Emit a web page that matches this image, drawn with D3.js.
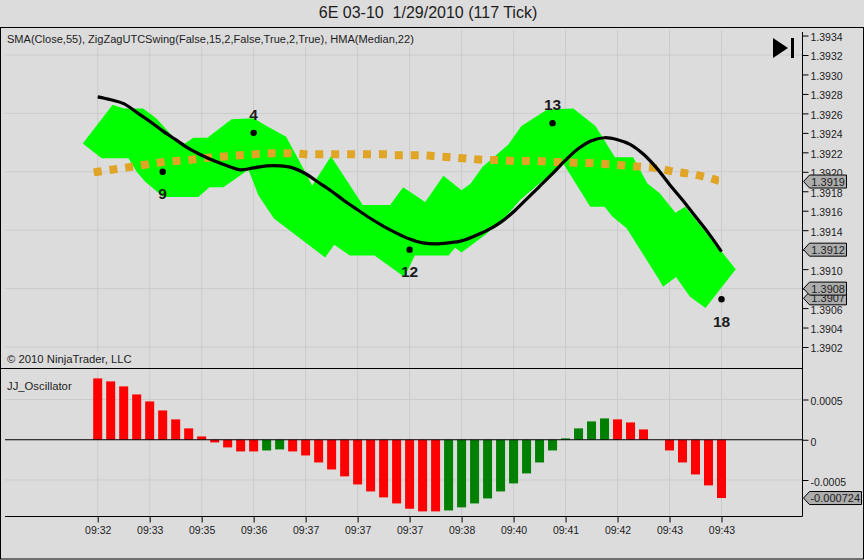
<!DOCTYPE html>
<html>
<head>
<meta charset="utf-8">
<script src="https://cdn.jsdelivr.net/npm/d3@7"></script>
<style>
  body { margin: 0; background: #dcdcdc; }
  svg { display: block; font-family: "Liberation Sans", Arial, sans-serif; }
  text { fill: #1c1c1c; white-space: pre; }
</style>
</head>
<body>
<div id="chart"></div>
<script>
// Data
const timeLabels = ["09:32", "09:33", "09:35", "09:36", "09:37", "09:37", "09:37", "09:38", "09:40", "09:41", "09:42", "09:43", "09:43"];
const priceTicks = [1.3934, 1.3932, 1.3930, 1.3928, 1.3926, 1.3924, 1.3922, 1.3920, 1.3918, 1.3916, 1.3914, 1.3912, 1.3910, 1.3908, 1.3906, 1.3904, 1.3902];
const priceGrid = [1.3932, 1.3926, 1.3920, 1.3914, 1.3908, 1.3902];
const priceFlags = [1.3919, 1.3912, 1.3907, 1.3908];
const oscTicks = [0.0005, 0, -0.0005];

const hma = [1.39277, 1.39274, 1.39270, 1.39261, 1.39252, 1.39242, 1.39233, 1.39224, 1.39217, 1.39211,
  1.39206, 1.39202, 1.39204, 1.39206, 1.39206, 1.39204, 1.39198, 1.39189, 1.39180, 1.39170,
  1.39161, 1.39152, 1.39144, 1.39137, 1.39131, 1.39127, 1.39126, 1.39127, 1.39129, 1.39134,
  1.39140, 1.39148, 1.39159, 1.39172, 1.39185, 1.39198, 1.39212, 1.39224, 1.39232, 1.39235,
  1.39233, 1.39228, 1.39218, 1.39204, 1.39187, 1.39171, 1.39154, 1.39137, 1.39118];

const sma = [1.39200, 1.39202, 1.39204, 1.39206, 1.39208, 1.39210, 1.39211, 1.39212, 1.39214, 1.39215,
  1.39216, 1.39217, 1.39218, 1.39219, 1.39219, 1.39219, 1.39218, 1.39218, 1.39218, 1.39218,
  1.39218, 1.39218, 1.39218, 1.39217, 1.39217, 1.39217, 1.39216, 1.39215, 1.39214, 1.39213,
  1.39212, 1.39212, 1.39211, 1.39211, 1.39211, 1.39210, 1.39210, 1.39209, 1.39209, 1.39208,
  1.39207, 1.39206, 1.39205, 1.39204, 1.39201, 1.39199, 1.39197, 1.39194, 1.39190];

// Green band outline, upper and lower edge
const bandTopBar = [-1.15, 1.15, 2, 3.5, 4.5, 5.8, 6.6, 7.36, 8.44, 10.3, 12, 13, 14.5, 15.6, 16.5, 17.95, 20.4, 22.5, 23.5, 25.2, 26.6, 28, 28.7, 29.6, 31.6, 32.6, 34.6, 36.6, 38.3, 39.8, 41.2, 42.3, 43.25, 44.46, 45.2, 48, 49.1];
const bandTopPrice = [1.39229, 1.39269, 1.39265, 1.39265, 1.39255, 1.39236, 1.39228, 1.39235, 1.39235, 1.39254, 1.39255, 1.39247, 1.39236, 1.39209, 1.39186, 1.39216, 1.39166, 1.39166, 1.39184, 1.39169, 1.39196, 1.39181, 1.39188, 1.39205, 1.39228, 1.39247, 1.39264, 1.39265, 1.39247, 1.39215, 1.39215, 1.39188, 1.39178, 1.39158, 1.39164, 1.39118, 1.39100];
const bandLowBar = [0.3, 2.36, 3, 3.64, 5.05, 7.74, 8.6, 9.67, 11.6, 12.36, 13.56, 17.5, 18.2, 19.4, 21.3, 23.6, 24.4, 27, 27.5, 28, 30, 31.6, 32.5, 34.6, 35.8, 37.9, 39, 39.6, 40.7, 43.2, 43.5, 44.5, 45.56, 46.77];
const bandLowPrice = [1.39214, 1.39214, 1.39200, 1.39190, 1.39174, 1.39174, 1.39184, 1.39184, 1.39202, 1.39176, 1.39152, 1.39112, 1.39125, 1.39114, 1.39114, 1.39092, 1.39114, 1.39114, 1.39122, 1.39117, 1.39137, 1.39157, 1.39171, 1.39195, 1.39209, 1.39164, 1.39164, 1.39154, 1.39142, 1.39089, 1.39082, 1.39092, 1.39072, 1.39060];

// Swing points
const swingBar = [5, 12, 24, 35, 48];
const swingPrice = [1.3920, 1.3924, 1.3912, 1.3925, 1.39069];
const swingLabel = ["9", "4", "12", "13", "18"];
const swingAbove = [false, true, false, true, false];

const oscillator = [0.000762, 0.000725, 0.000663, 0.000563, 0.000476, 0.000364, 0.000253, 0.000141, 0.000041, -0.000033,
  -0.000095, -0.000145, -0.000145, -0.000133, -0.00012, -0.000145, -0.000195, -0.000282, -0.000369, -0.000455,
  -0.000555, -0.000642, -0.000716, -0.000791, -0.000857, -0.00089, -0.00089, -0.000878, -0.00084, -0.000791,
  -0.000729, -0.000642, -0.000542, -0.000418, -0.000282, -0.000133, 0.000017, 0.000141, 0.000228, 0.000265,
  0.000253, 0.000215, 0.000128, 0, -0.000133, -0.000282, -0.000431, -0.000567, -0.000724];
const greenBars = [13, 14, 27, 28, 29, 30, 31, 32, 33, 34, 35, 36, 37, 38, 39];

const width = 864, height = 560;
const bg = "#dcdcdc", gridColor = "#cbcbcb";
const right = 802.5;

const x = d3.scaleLinear().domain([0, 48]).range([97.7, 721.5]);
const y = d3.scaleLinear().domain([1.3932, 1.3902]).range([55, 347]);
const yOsc = d3.scaleLinear().domain([0.0005, -0.0005]).range([399.5, 480]);

const svg = d3.select("#chart").append("svg")
  .attr("width", width)
  .attr("height", height);

svg.append("rect").attr("width", width).attr("height", height).attr("fill", bg);

// Title
svg.append("text")
  .attr("x", 428).attr("y", 18)
  .attr("text-anchor", "middle")
  .style("font-size", "16px")
  .text("6E 03-10  1/29/2010 (117 Tick)");

// Grid
const grid = svg.append("g").attr("stroke", gridColor).attr("stroke-width", 1);
grid.selectAll(".v").data(d3.range(0, 49, 4)).join("line")
  .attr("x1", d => x(d)).attr("x2", d => x(d))
  .attr("y1", 30).attr("y2", 516);
grid.selectAll(".h").data(priceGrid).join("line")
  .attr("x1", 5).attr("x2", right)
  .attr("y1", d => y(d)).attr("y2", d => y(d));
grid.selectAll(".o").data([0.0005, -0.0005]).join("line")
  .attr("x1", 5).attr("x2", right)
  .attr("y1", d => yOsc(d)).attr("y2", d => yOsc(d));

// Legend boxes hide the vertical grid behind the text
svg.append("rect").attr("x", 5).attr("y", 30).attr("width", 411).attr("height", 17).attr("fill", bg);
svg.append("rect").attr("x", 5).attr("y", 352).attr("width", 128).attr("height", 15).attr("fill", bg);

const smallText = (t, px, py, size) => svg.append("text").attr("x", px).attr("y", py).style("font-size", size + "px").text(t);
smallText("SMA(Close,55), ZigZagUTCSwing(False,15,2,False,True,2,True), HMA(Median,22)", 7, 43, 11.05);
smallText("© 2010 NinjaTrader, LLC", 7, 363, 11.3);
smallText("JJ_Oscillator", 7, 390, 11.3);

// Green band
const bandPoints = bandTopBar.map((b, i) => [b, bandTopPrice[i]])
  .concat(bandLowBar.map((b, i) => [b, bandLowPrice[i]]).reverse());
svg.append("path")
  .attr("d", d3.line().x(d => x(d[0])).y(d => y(d[1]))(bandPoints) + "Z")
  .attr("fill", "#00ff00");

// SMA and HMA
const priceLine = d3.line().x((d, i) => x(i)).y(d => y(d));
svg.append("clipPath").attr("id", "smaClip")
  .append("rect").attr("x", 0).attr("y", 0).attr("width", x(47.8)).attr("height", height);
svg.append("path")
  .attr("d", priceLine(sma))
  .attr("clip-path", "url(#smaClip)")
  .attr("fill", "none")
  .attr("stroke", "#e0a526")
  .attr("stroke-width", 8)
  .attr("stroke-linecap", "square")
  .attr("stroke-dasharray", "0.01 15.9");
svg.append("path")
  .attr("d", priceLine.curve(d3.curveCatmullRom)(hma))
  .attr("fill", "none")
  .attr("stroke", "#000")
  .attr("stroke-width", 3.2);

// Swing dots with labels
svg.selectAll(".swing").data(swingBar).join("circle")
  .attr("cx", d => x(d))
  .attr("cy", (d, i) => y(swingPrice[i]))
  .attr("r", 3.2)
  .attr("fill", "#000");
svg.selectAll(".swinglabel").data(swingBar).join("text")
  .attr("x", d => x(d))
  .attr("y", (d, i) => y(swingPrice[i]) + (swingAbove[i] ? -13 : 27.5))
  .attr("text-anchor", "middle")
  .style("font-weight", "bold")
  .style("font-size", "15.5px")
  .text((d, i) => swingLabel[i]);

// Oscillator bars
svg.selectAll(".bar").data(oscillator).join("rect")
  .attr("x", (d, i) => x(i) - 4.5)
  .attr("width", 9)
  .attr("y", d => Math.min(yOsc(d), yOsc(0)))
  .attr("height", d => Math.abs(yOsc(d) - yOsc(0)))
  .attr("fill", (d, i) => greenBars.includes(i) ? "#008000" : "#ff0000");

// Frame
const frame = svg.append("g").attr("stroke", "#000").attr("stroke-width", 1).attr("fill", "none");
frame.append("rect").attr("x", 0.5).attr("y", 27.5).attr("width", 863).attr("height", 531.5);
frame.append("line").attr("x1", 0).attr("x2", right).attr("y1", 368.5).attr("y2", 368.5);
frame.append("line").attr("x1", 5).attr("x2", right).attr("y1", yOsc(0)).attr("y2", yOsc(0));
frame.append("line").attr("x1", 5).attr("x2", right).attr("y1", 516.5).attr("y2", 516.5);
frame.append("line").attr("x1", right).attr("x2", right).attr("y1", 32).attr("y2", 516.5);

// Axes
function styleAxis(g) {
  g.select(".domain").remove();
  g.selectAll("line").attr("stroke", "#000");
  g.selectAll("text").style("font-size", "10.5px").style("font-family", "'Liberation Sans', Arial, sans-serif");
}
svg.append("g")
  .attr("transform", `translate(${right},0)`)
  .call(d3.axisRight(y).tickValues(priceTicks).tickSize(6).tickPadding(2).tickFormat(d3.format(".4f")))
  .call(styleAxis)
  .selectAll("text").attr("dy", "0.47em");
svg.append("g")
  .attr("transform", `translate(${right},0)`)
  .call(d3.axisRight(yOsc).tickValues(oscTicks).tickSize(6).tickPadding(2).tickFormat(d => d === 0 ? "0" : d3.format(".4f")(d).replace("−", "-")))
  .call(styleAxis)
  .selectAll("text").attr("dy", "0.5em");
svg.append("g")
  .attr("transform", "translate(0,516.5)")
  .call(d3.axisBottom(x).tickValues(d3.range(0, 49, 4)).tickSize(6).tickPadding(4).tickFormat(d => timeLabels[d / 4]))
  .call(styleAxis);

// Price flags on the axes
function flag(value, py, w) {
  const g = svg.append("g").attr("transform", `translate(${right + 1},${py})`);
  g.append("path")
    .attr("d", `M0,0L6,-6.5H${w}V6.5H6Z`)
    .attr("fill", "#adadad")
    .attr("stroke", "#000");
  g.append("text")
    .attr("x", w - 1.5).attr("y", 4)
    .attr("text-anchor", "end")
    .style("font-size", "11px")
    .text(value);
}
priceFlags.forEach(d => flag(d.toFixed(4), y(d), 43));
flag("-0.000724", yOsc(-0.000724), 58);

// Jump-to-end button
svg.append("path").attr("d", "M773,38L788,48L773,58Z").attr("fill", "#000");
svg.append("rect").attr("x", 791).attr("y", 38).attr("width", 3).attr("height", 20).attr("fill", "#000");
</script>
</body>
</html>
